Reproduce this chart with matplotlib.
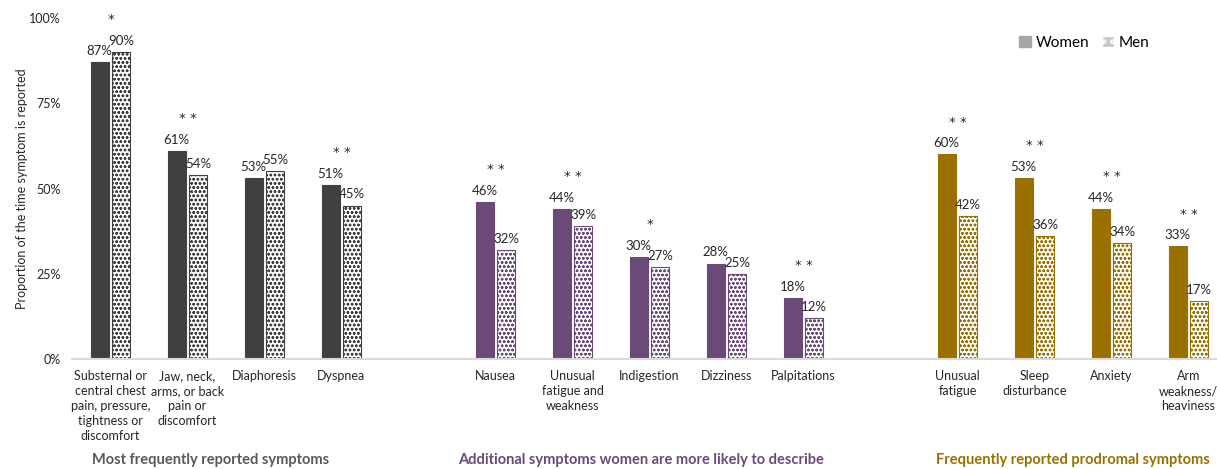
import numpy as np
import matplotlib.pyplot as plt
from matplotlib.patches import Patch

plt.rcParams['font.family'] = ['Lato', 'DejaVu Sans']
plt.rcParams['hatch.linewidth'] = 0.7

# data
cats1 = ['Substernal or\ncentral chest\npain, pressure,\ntightness or\ndiscomfort',
         'Jaw, neck,\narms, or back\npain or\ndiscomfort', 'Diaphoresis', 'Dyspnea']
women1 = [87, 61, 53, 51]
men1 = [90, 54, 55, 45]
stars1 = ['*', '* *', '', '* *']

cats2 = ['Nausea', 'Unusual\nfatigue and\nweakness', 'Indigestion', 'Dizziness', 'Palpitations']
women2 = [46, 44, 30, 28, 18]
men2 = [32, 39, 27, 25, 12]
stars2 = ['* *', '* *', '*', '', '* *']

cats3 = ['Unusual\nfatigue', 'Sleep\ndisturbance', 'Anxiety', 'Arm\nweakness/\nheaviness']
women3 = [60, 53, 44, 33]
men3 = [42, 36, 34, 17]
stars3 = ['* *', '* *', '* *', '* *']

group_titles = ['Most frequently reported symptoms',
                'Additional symptoms women are more likely to describe',
                'Frequently reported prodromal symptoms']
colors = ['#404040', '#6B4A7A', '#9A7000']
title_colors = ['#595959', '#6B4A7A', '#9A7000']
title_shift = [-0.2, -0.11, 0.0]

groups = [(cats1, women1, men1, stars1), (cats2, women2, men2, stars2), (cats3, women3, men3, stars3)]

fig = plt.figure(figsize=(12.17, 4.69), dpi=100)
ax = fig.add_axes([72/1217, 1-359/469, 1155/1217, 341/469])

w = 0.23
off = 0.14
pos = 0
tick_pos = []
tick_lab = []
for (cats, wom, men, st), col, title, tcol, sh in zip(groups, colors, group_titles, title_colors, title_shift):
    x = np.arange(len(cats)) + pos
    ax.bar(x - off, wom, w, color=col, edgecolor=col, linewidth=0.8)
    ax.bar(x + off, men, w, color='white', edgecolor=col, hatch='oooo', linewidth=0.8)
    for xi, a, b, s in zip(x, wom, men, st):
        ax.text(xi - off, a + 1.5, f'{a}%', ha='center', va='bottom', fontsize=9.5, color='#262626')
        ax.text(xi + off, b + 1.5, f'{b}%', ha='center', va='bottom', fontsize=9.5, color='#262626')
        if s:
            ax.text(xi, max(a, b) + 9.5, s, ha='center', va='center', fontsize=9.5,
                    family='DejaVu Sans', color='#262626')
    tick_pos += list(x)
    tick_lab += cats
    ax.text(x.mean() + sh, -0.296, title, transform=ax.get_xaxis_transform(), ha='center', va='center',
            fontsize=10.5, fontweight='bold', color=tcol)
    pos += len(cats) + 1

ax.set_xlim(-0.5, 14.5)
ax.set_ylim(0, 100)
ax.set_xticks(tick_pos)
ax.set_xticklabels(tick_lab, fontsize=9, color='#262626', linespacing=1.3, va='top')
ax.tick_params(axis='x', length=0, pad=8)
ax.set_yticks([0, 25, 50, 75, 100])
ax.set_yticklabels(['0%', '25%', '50%', '75%', '100%'], fontsize=9, color='#262626')
ax.tick_params(axis='y', length=0, pad=8)
ax.set_ylabel('Proportion of the time symptom is reported', fontsize=9, color='#262626', labelpad=1)
for sp in ['top', 'right', 'left']:
    ax.spines[sp].set_visible(False)
ax.spines['bottom'].set_color('#D9D9D9')
ax.spines['bottom'].set_linewidth(1.5)

handles = [Patch(facecolor='#A6A6A6', edgecolor='#A6A6A6', label='Women'),
           Patch(facecolor='#C8C8C8', edgecolor='white', hatch='oo', label='Men')]
fig.legend(handles=handles, loc='upper right', bbox_to_anchor=(1163/1217, 1-22/469), ncol=2,
           frameon=False, fontsize=11, handlelength=0.8, handleheight=0.8, handletextpad=0.3,
           columnspacing=0.8)

fig.savefig('out.png', dpi=100)
